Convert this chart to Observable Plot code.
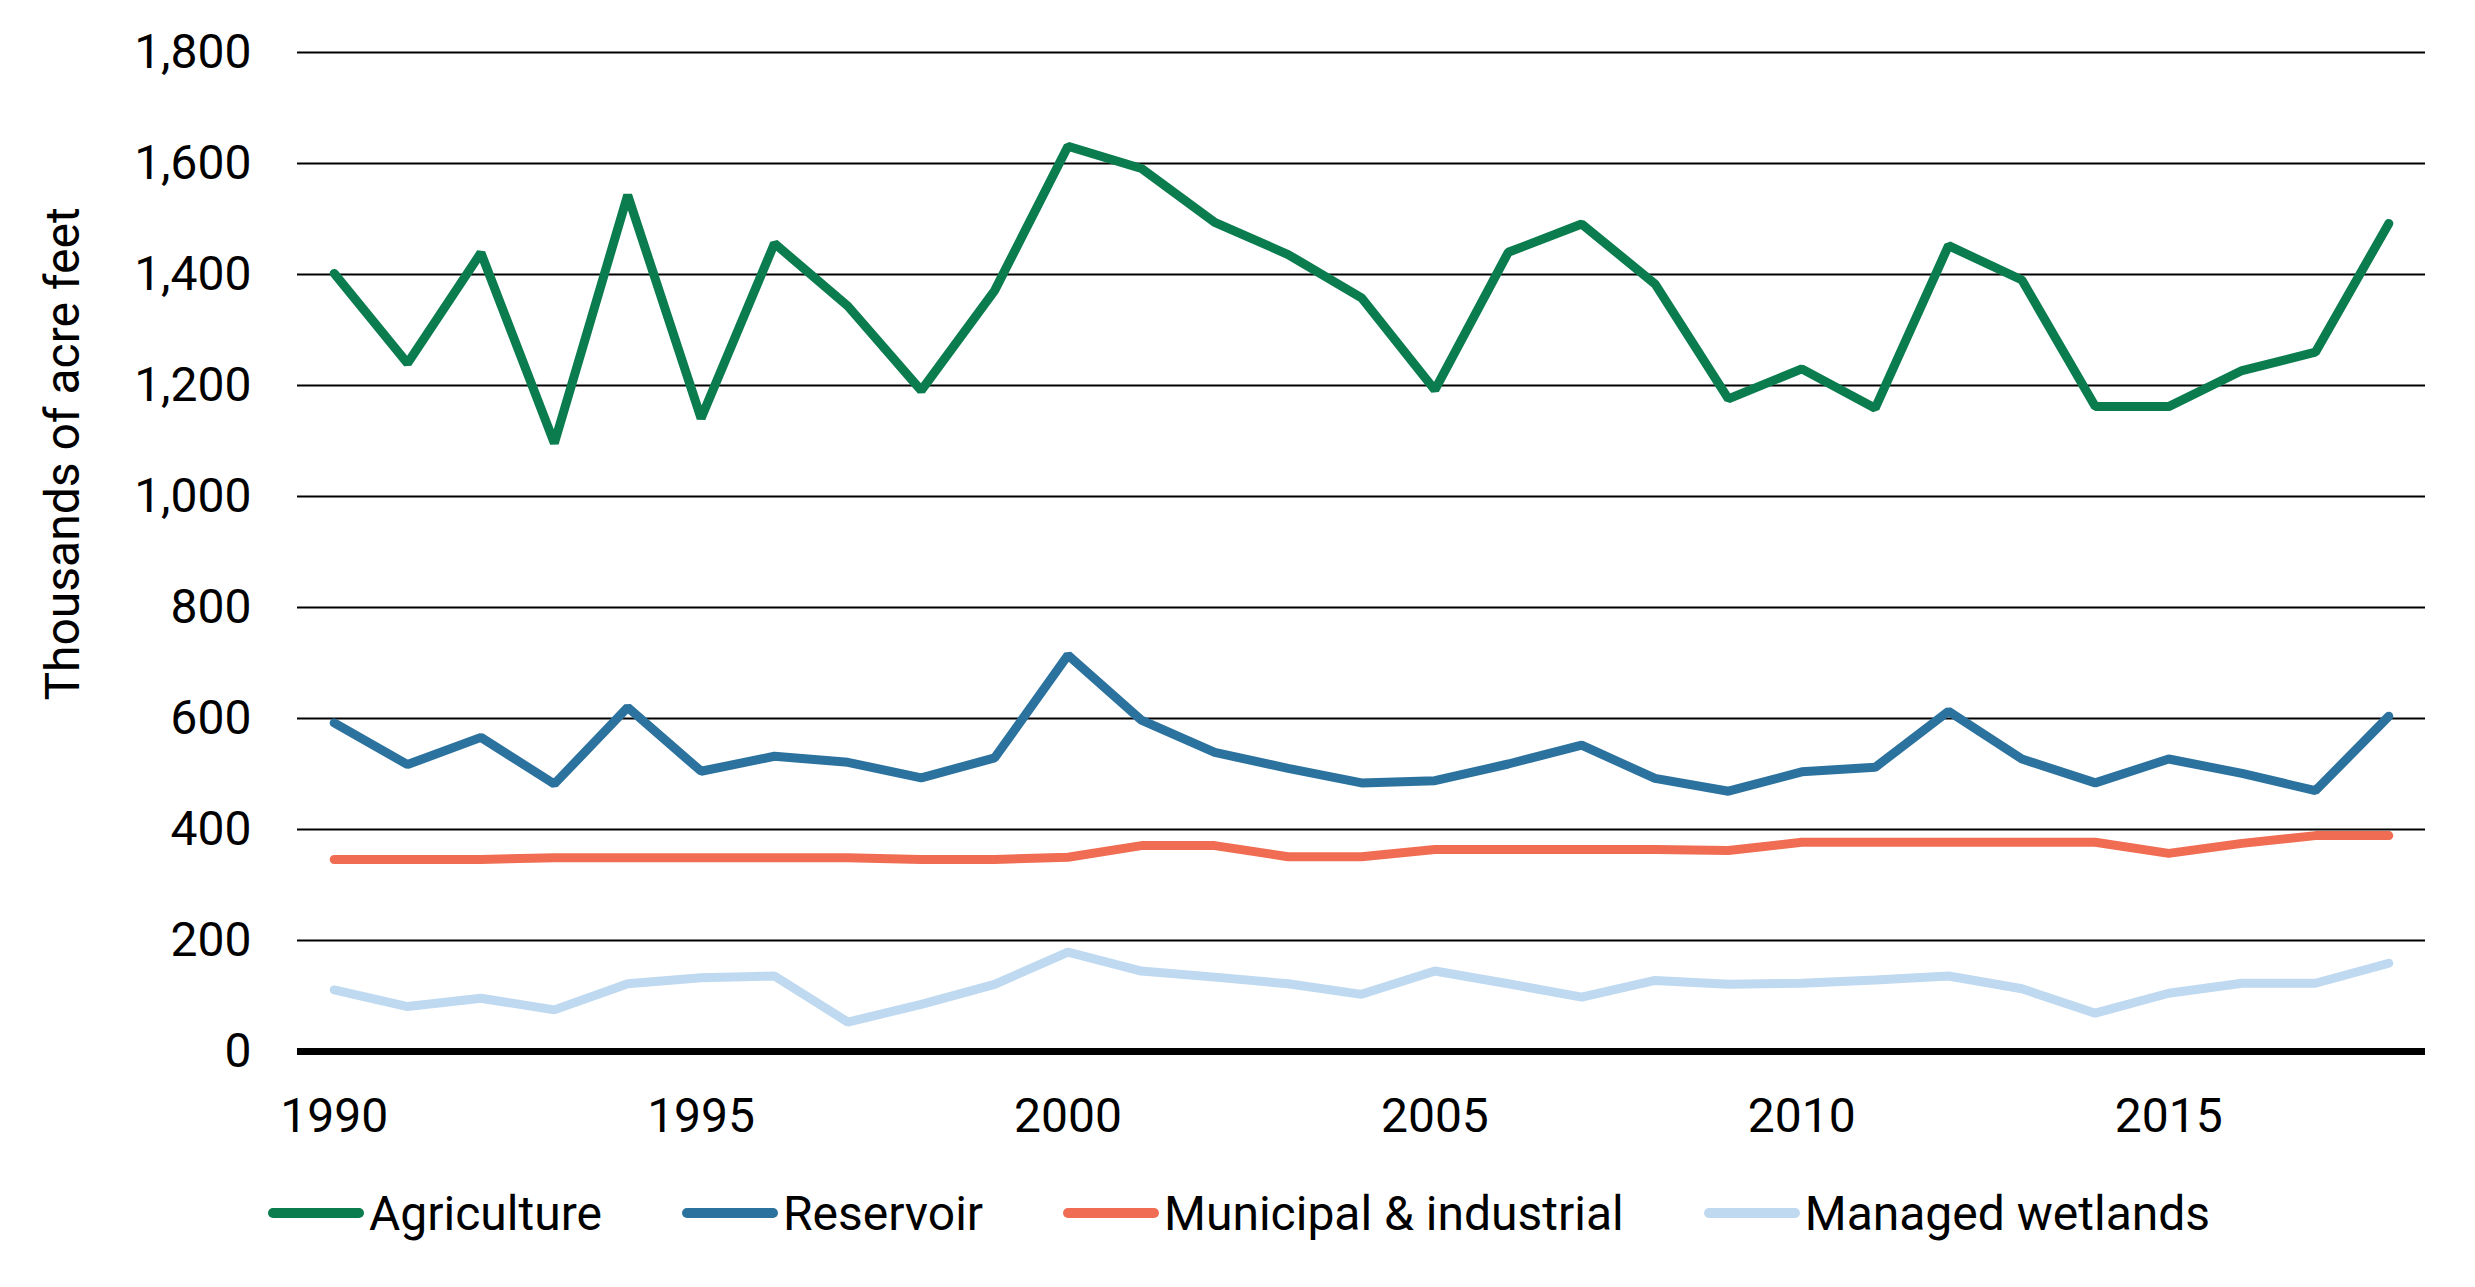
<!DOCTYPE html>
<html>
<head>
<meta charset="utf-8">
<script src="https://cdn.jsdelivr.net/npm/d3@7"></script>
<script src="https://cdn.jsdelivr.net/npm/@observablehq/plot@0.6"></script>
<style>
  html, body { margin: 0; padding: 0; background: #fff; }
  #chart svg { display: block; }
  #legend {
    display: flex; align-items: center; height: 60px; margin-top: 23px;
    padding-left: 268px; font-family: Roboto, sans-serif; font-size: 48px; color: #000;
  }
  .item { display: flex; align-items: center; margin-right: 80px; }
  .sw { width: 96px; height: 10px; border-radius: 5px; margin-right: 5px; }
</style>
</head>
<body>
<div id="chart"></div>
<div id="legend"></div>
<script>
const years = [1990,1991,1992,1993,1994,1995,1996,1997,1998,1999,2000,2001,2002,2003,2004,2005,2006,2007,2008,2009,2010,2011,2012,2013,2014,2015,2016,2017,2018];
const agriculture = [1402,1240,1439,1096,1543,1141,1456,1343,1191,1371,1631,1591,1494,1436,1358,1192,1440,1491,1383,1176,1230,1159,1452,1390,1162,1162,1227,1260,1492];
const reservoir = [592,517,566,482,620,505,532,521,493,529,714,597,539,510,484,488,518,552,492,469,504,512,613,527,484,527,501,470,604];
const municipal = [346,346,346,349,349,349,349,349,346,346,350,371,371,351,351,364,364,364,364,362,377,377,377,377,377,357,375,389,389];
const wetlands = [111,81,96,75,122,133,136,53,85,121,179,145,134,122,103,145,122,98,128,121,123,129,136,113,69,105,123,123,159];

const seriesNames = ["Agriculture", "Reservoir", "Municipal & industrial", "Managed wetlands"];
const seriesColors = ["#0a7c4e", "#2c729e", "#f06d53", "#bfd9f0"];
const seriesValues = [agriculture, reservoir, municipal, wetlands];
const yTicks = [0, 200, 400, 600, 800, 1000, 1200, 1400, 1600, 1800];
const xTicks = [1990, 1995, 2000, 2005, 2010, 2015];
const yLabel = "Thousands of acre feet";

const data = seriesNames.flatMap((name, i) =>
  years.map((year, j) => ({series: name, year, value: seriesValues[i][j]})));

const chart = Plot.plot({
  width: 2475,
  height: 1160,
  marginLeft: 297,
  marginRight: 50,
  marginTop: 52,
  marginBottom: 109,
  style: {fontFamily: "Roboto, sans-serif", fontSize: "48px", color: "#000", background: "#fff"},
  x: {domain: [1989.5, 2018.5], ticks: xTicks, tickFormat: d => String(d), tickSize: 0, tickPadding: 46, label: null},
  y: {domain: [0, 1800], ticks: yTicks, tickFormat: d3.format(","), tickSize: 0, tickPadding: 46, label: null},
  color: {domain: seriesNames, range: seriesColors},
  marks: [
    Plot.ruleY(yTicks.filter(d => d > 0), {stroke: "#000", strokeWidth: 2}),
    Plot.ruleY([0], {stroke: "#000", strokeWidth: 7}),
    Plot.line(data, {x: "year", y: "value", z: "series", stroke: "series", strokeWidth: 9,
      strokeLinecap: "round", strokeLinejoin: "miter"}),
    Plot.text([yLabel], {text: d => d, frameAnchor: "left", rotate: -90, dx: -234, dy: -98,
      fontSize: 48, fill: "#000", textAnchor: "middle", lineAnchor: "middle"})
  ]
});
document.getElementById("chart").appendChild(chart);

const legend = document.getElementById("legend");
seriesNames.forEach((name, i) => {
  const item = document.createElement("div");
  item.className = "item";
  const sw = document.createElement("div");
  sw.className = "sw";
  sw.style.background = seriesColors[i];
  const label = document.createElement("span");
  label.textContent = name;
  item.appendChild(sw);
  item.appendChild(label);
  legend.appendChild(item);
});
</script>
</body>
</html>
